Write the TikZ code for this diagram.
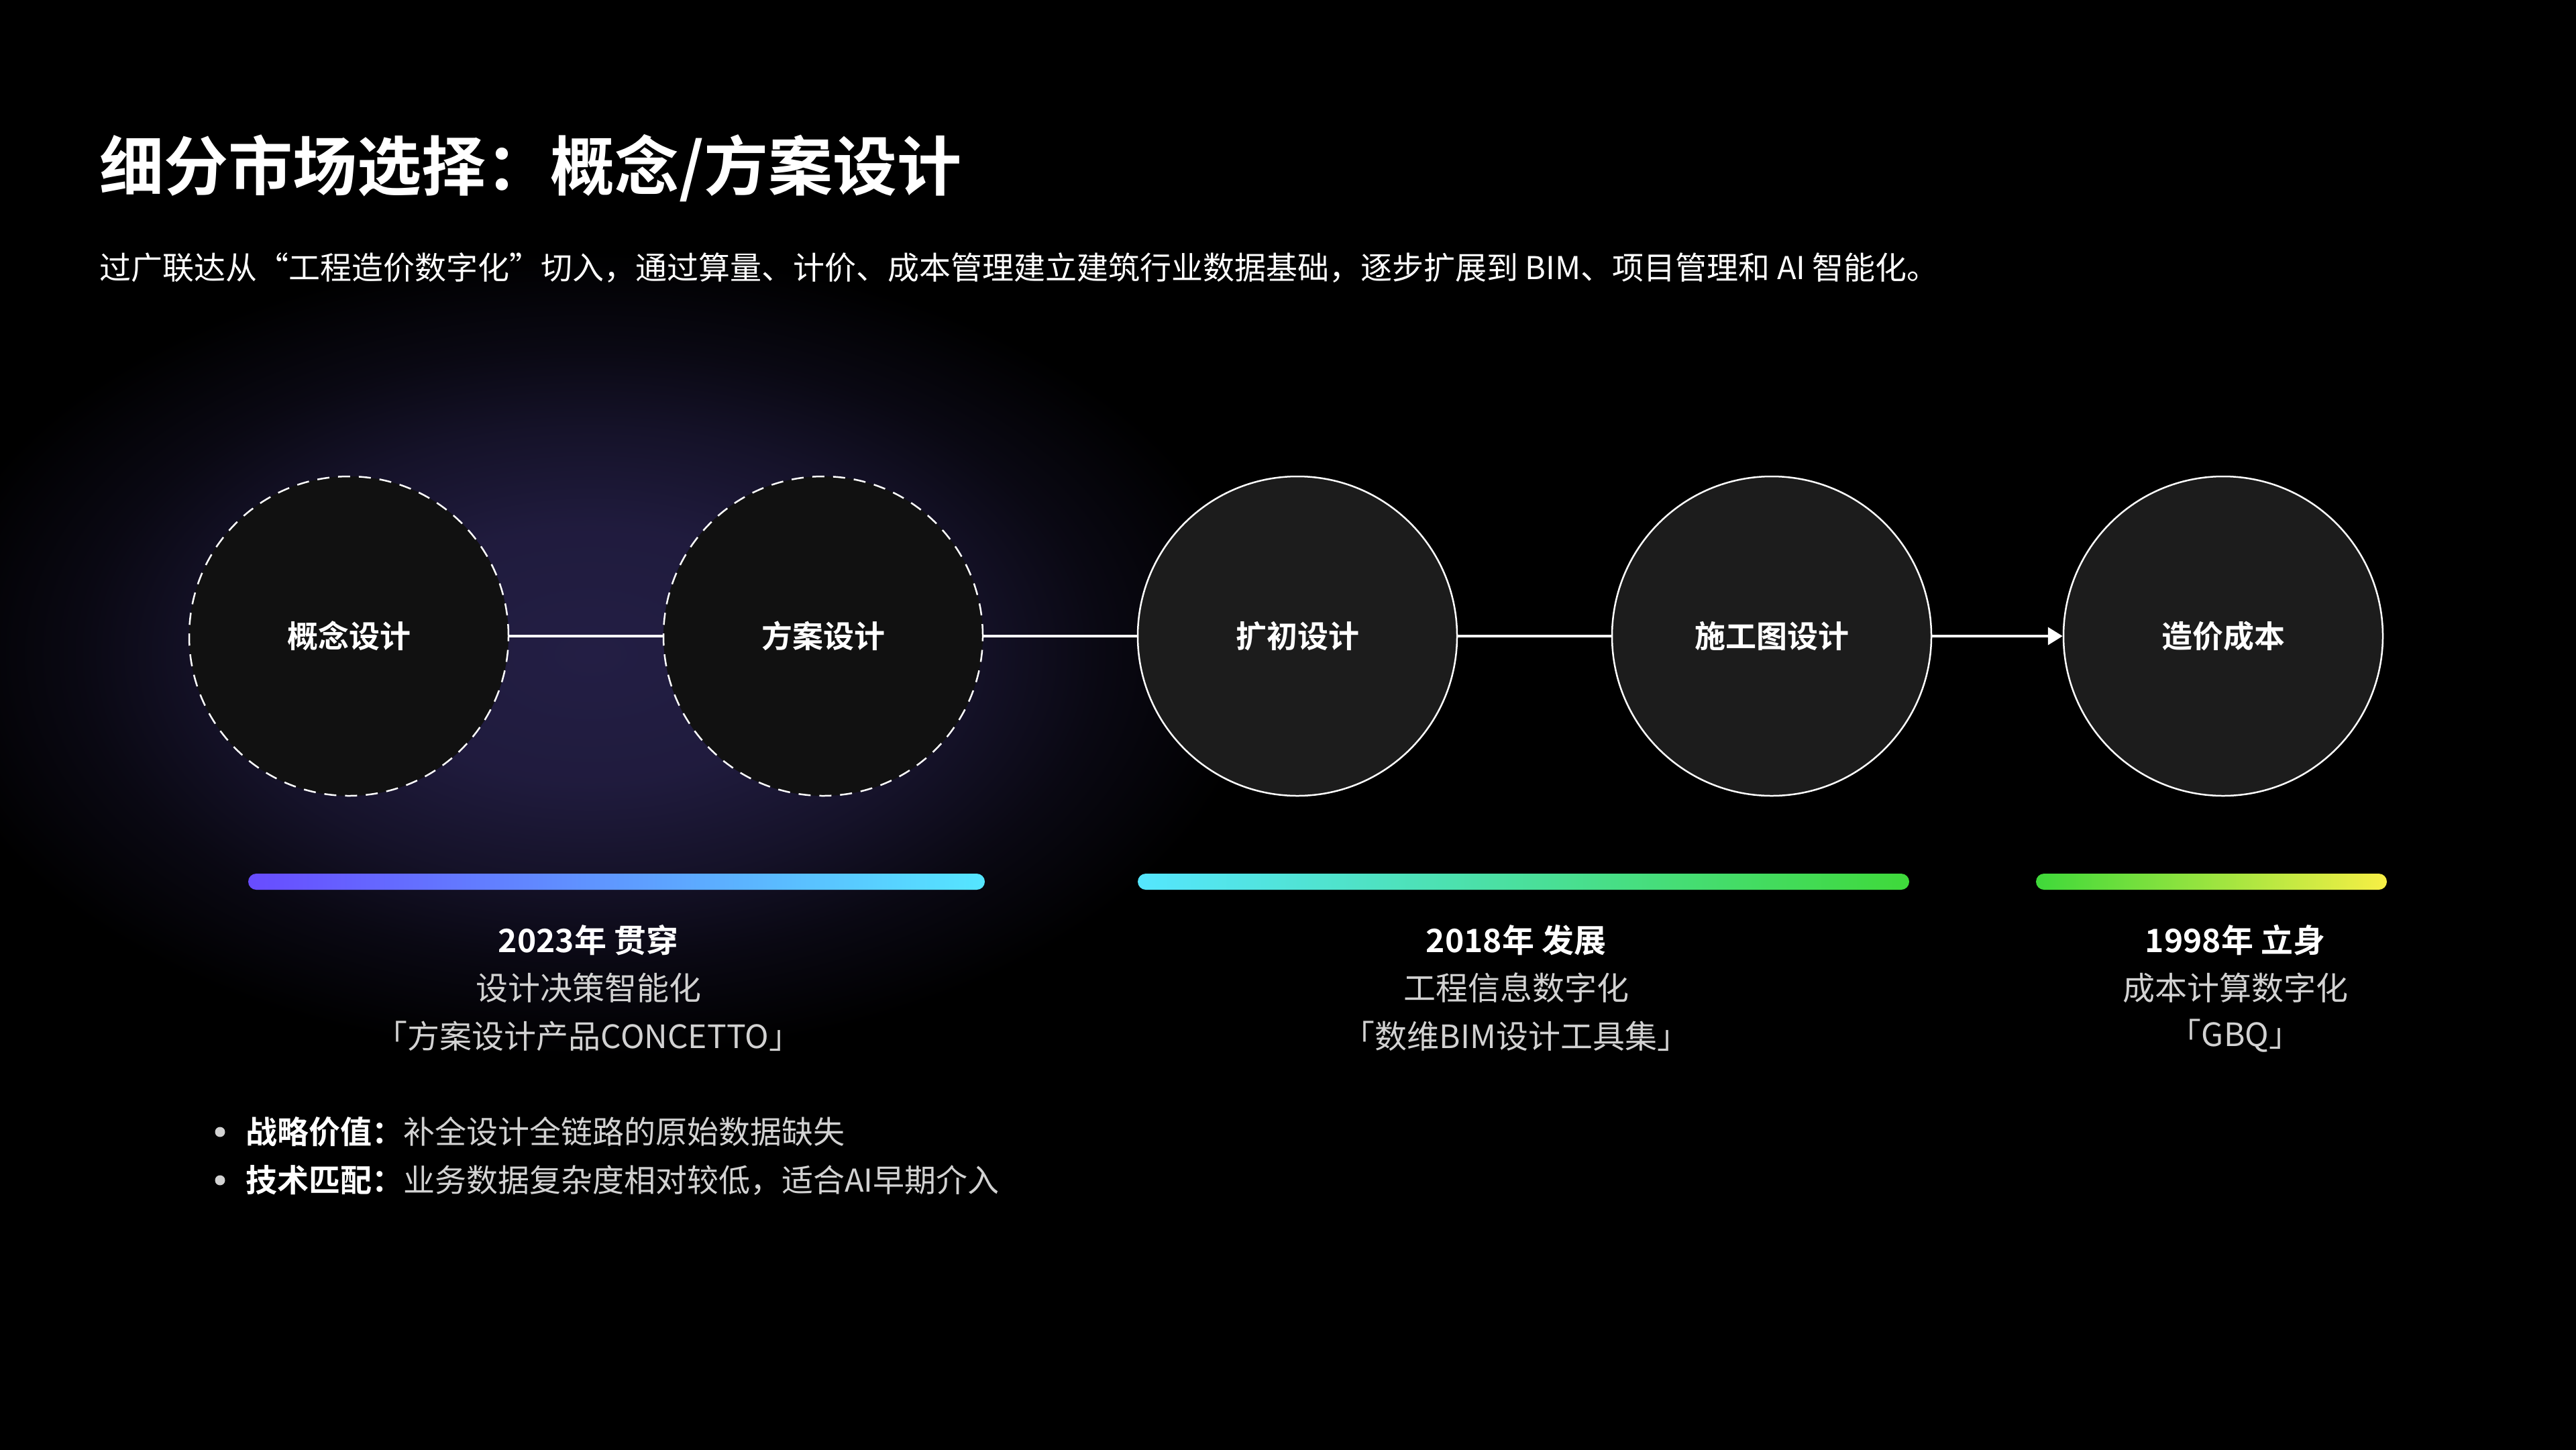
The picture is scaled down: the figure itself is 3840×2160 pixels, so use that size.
\documentclass[tikz,border=0pt]{standalone}
\usepackage{fontspec}
\setmainfont{Noto Sans CJK SC}[BoldFont={Noto Sans CJK SC Bold}]
\usepackage{tikz}
\usetikzlibrary{positioning,arrows.meta}

\definecolor{glowc}{HTML}{231E44}
\definecolor{darkfill}{HTML}{111111}
\definecolor{stagefill}{HTML}{1C1C1C}
\definecolor{softgray}{HTML}{D2D2D2}
\definecolor{barpurple}{HTML}{684CFF}
\definecolor{barcyan}{HTML}{55E6FF}
\definecolor{bargreen}{HTML}{3FD93A}
\definecolor{baryellow}{HTML}{F7EF45}
\pgfdeclareradialshading{glowshade}{\pgfpoint{0bp}{0bp}}{color(0bp)=(glowc); color(8bp)=(glowc!90!black); color(14bp)=(glowc!60!black); color(19bp)=(glowc!28!black); color(25bp)=(black); color(50bp)=(black)}

\begin{document}
\begin{tikzpicture}[x=1pt,y=-1pt,node distance=707pt,on grid,
    stage/.style={circle,minimum size=476pt,inner sep=0pt,fill=stagefill,draw=white,line width=2.5pt,text=white,font=\fontsize{46}{55}\selectfont\bfseries},
    early/.style={stage,fill=darkfill,dash pattern=on 18pt off 13pt},
    link/.style={draw=white,line width=4pt},
    yearlbl/.style={text=white,font=\fontsize{48}{58}\selectfont\bfseries},
    sublbl/.style={text=softgray,font=\fontsize{48}{58}\selectfont},
    note/.style={anchor=west,inner sep=0pt,text=softgray,font=\fontsize{47}{56}\selectfont},
    dot/.style={circle,fill=softgray,minimum size=15pt,inner sep=0pt}]
    \useasboundingbox (0,0) rectangle (3840,2160);
    \fill[black] (-20,-20) rectangle (3860,2180);
    \begin{scope}
    \clip (0,0) rectangle (3840,2160);
    \shade[shading=glowshade] (880,975) ellipse (1000pt and 600pt);
    \end{scope}

    % heading
    \node[anchor=west,inner sep=0pt,text=white,font=\fontsize{96}{115}\selectfont\bfseries] (title) at (148,251) {细分市场选择：概念/方案设计};
    \node[anchor=west,inner sep=0pt,text=white,font=\fontsize{47}{56}\selectfont] (lead) at (148,399) {过广联达从“工程造价数字化”切入，通过算量、计价、成本管理建立建筑行业数据基础，逐步扩展到 BIM、项目管理和 AI 智能化。};

    % stages
    \node[early] (st_concept) at (520,948)        {概念设计};
    \node[early] (st_scheme)  [right=of st_concept] {方案设计};
    \node[stage] (st_prelim)  [right=of st_scheme]  {扩初设计};
    \node[stage] (st_draw)    [right=of st_prelim]  {施工图设计};
    \node[stage] (st_cost)    [right=673pt of st_draw] {造价成本};
    \path[link]
    (st_concept) edge (st_scheme)
    (st_scheme)  edge (st_prelim)
    (st_prelim)  edge (st_draw)
    (st_draw)    edge [-{Triangle[length=22pt,width=26pt,fill=white]}] (st_cost);

    % phase bars
    \shade[left color=barpurple,right color=barcyan,rounded corners=12pt] (370,1302) rectangle (1468,1326);
    \shade[left color=barcyan,right color=bargreen,rounded corners=12pt] (1696,1302) rectangle (2846,1326);
    \shade[left color=bargreen,right color=baryellow,rounded corners=12pt] (3035,1302) rectangle (3558,1326);

    \node[yearlbl] (yr_2023) at (877,1401)            {2023年 贯穿};
    \node[sublbl]  (aim_2023) [below=71.5pt of yr_2023] {设计决策智能化};
    \node[sublbl]  (prod_2023) [below=71.5pt of aim_2023] {「方案设计产品CONCETTO」};
    \node[yearlbl] (yr_2018) at (2260,1401)           {2018年 发展};
    \node[sublbl]  (aim_2018) [below=71.5pt of yr_2018] {工程信息数字化};
    \node[sublbl]  (prod_2018) [below=71.5pt of aim_2018] {「数维BIM设计工具集」};
    \node[yearlbl] (yr_1998) at (3332,1401)           {1998年 立身};
    \node[sublbl]  (aim_1998) [below=71.5pt of yr_1998] {成本计算数字化};
    \node[sublbl]  (prod_1998) [below=71.5pt of aim_1998] {「GBQ」};

    % notes
    \node[dot] (dot_value) at (328,1687) {};
    \node[dot] (dot_fit)   at (328,1759) {};
    \node[note] (note_value) at (366,1687) {{\bfseries\color{white}战略价值：}补全设计全链路的原始数据缺失};
    \node[note] (note_fit)   at (366,1759) {{\bfseries\color{white}技术匹配：}业务数据复杂度相对较低，适合AI早期介入};
\end{tikzpicture}
\end{document}
